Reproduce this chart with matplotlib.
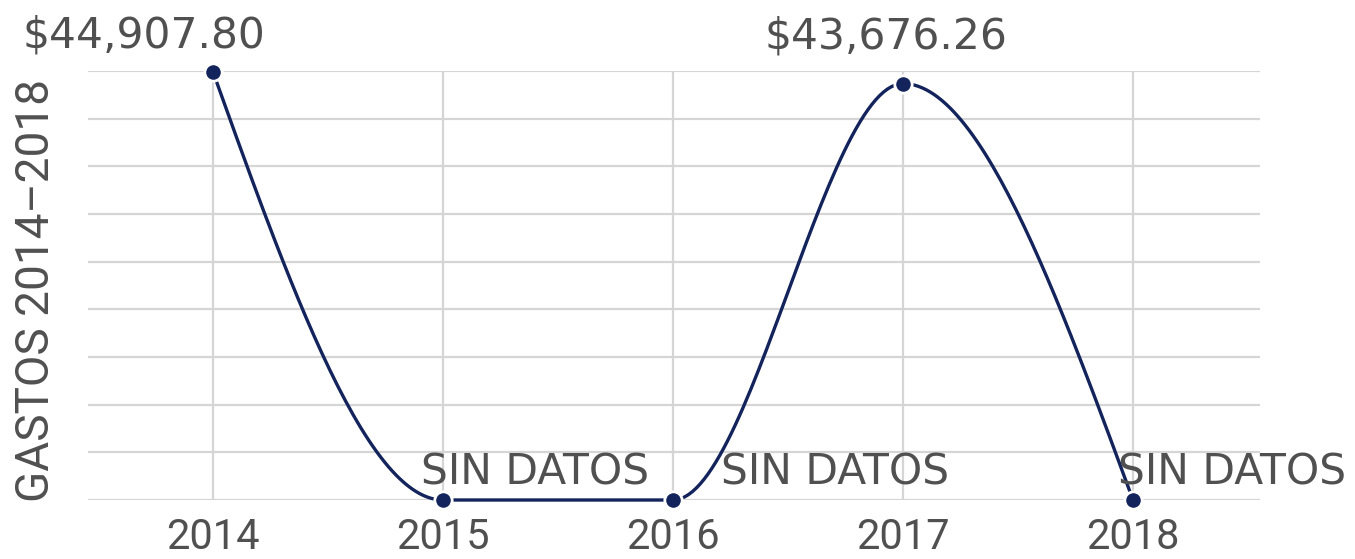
import numpy as np
import matplotlib
matplotlib.use("Agg")
import matplotlib.pyplot as plt

# ---- data ----
years = [2014, 2015, 2016, 2017, 2018]
values = [44907.80, 0.0, 0.0, 43676.26, 0.0]
point_labels = ["$44,907.80", "SIN DATOS", "SIN DATOS", "$43,676.26", "SIN DATOS"]
y_title = "GASTOS 2014–2018"
y_ticks = list(range(0, 45001, 5000))

# label offsets in points (style)
label_offsets = [(-49.7, 17.3), (66, 11.5), (117, 11.5), (-12.2, 25.2), (71, 11.5)]

LINE = "#13235b"
TEXT = "#505050"
GRID = "#d5d5d5"


def monotone_x(xs, ys, n=60):
    """d3 curveMonotoneX sampled as polyline."""
    xs = np.asarray(xs, float)
    ys = np.asarray(ys, float)
    m = len(xs)
    h = np.diff(xs)
    s = np.diff(ys) / h
    t = np.zeros(m)
    for i in range(1, m - 1):
        h0, h1 = h[i - 1], h[i]
        s0, s1 = s[i - 1], s[i]
        p = (s0 * h1 + s1 * h0) / (h0 + h1)
        t[i] = (np.sign(s0) + np.sign(s1)) * min(abs(s0), abs(s1), 0.5 * abs(p))
    t[0] = (3 * s[0] - t[1]) / 2
    t[-1] = (3 * s[-1] - t[-2]) / 2
    px, py = [], []
    u = np.linspace(0, 1, n)
    for i in range(m - 1):
        x0, x1 = xs[i], xs[i + 1]
        y0, y1 = ys[i], ys[i + 1]
        dx = (x1 - x0) / 3
        P = np.array([[x0, y0], [x0 + dx, y0 + dx * t[i]],
                      [x1 - dx, y1 - dx * t[i + 1]], [x1, y1]])
        b = ((1 - u) ** 3)[:, None] * P[0] + (3 * (1 - u) ** 2 * u)[:, None] * P[1] \
            + (3 * (1 - u) * u ** 2)[:, None] * P[2] + (u ** 3)[:, None] * P[3]
        px.extend(b[:, 0])
        py.extend(b[:, 1])
    return np.array(px), np.array(py)


fig = plt.figure(figsize=(13.55, 5.59), dpi=100)
ax = fig.add_axes([88 / 1355, 1 - 500 / 559, (1260 - 88) / 1355, (500 - 71) / 559])

ax.set_xlim(2014 - 125 / 230, 2018 + 127 / 230)
ax.set_ylim(0, 45000)
ax.set_xticks(years)
ax.set_xticklabels([str(y) for y in years], fontfamily="Roboto", fontsize=30, color=TEXT)
ax.set_yticks(y_ticks)
ax.set_yticklabels([])
ax.tick_params(axis="both", length=0)
ax.tick_params(axis="x", pad=12)
for sp in ax.spines.values():
    sp.set_visible(False)
ax.grid(True, color=GRID, linewidth=1.6, zorder=0)
ax.set_axisbelow(True)

cx, cy = monotone_x(years, values)
ax.plot(cx, cy, color=LINE, linewidth=2.4, zorder=3, clip_on=False, solid_capstyle="round")
ax.plot(years, values, linestyle="none", marker="o", markersize=12.5,
        markerfacecolor=LINE, markeredgecolor="white", markeredgewidth=2.0,
        zorder=4, clip_on=False)

for x, v, lab, off in zip(years, values, point_labels, label_offsets):
    ax.annotate(lab, (x, v), xytext=off, textcoords="offset points",
                ha="center", va="baseline", fontsize=30.5, color=TEXT,
                fontfamily="DejaVu Sans", zorder=5, annotation_clip=False)

fig.text(36 / 1355, 1 - 291 / 559, y_title, rotation=90, ha="center", va="center",
         fontsize=33, fontfamily="Roboto", color=TEXT)

fig.savefig("out.png", dpi=100, facecolor="white")
